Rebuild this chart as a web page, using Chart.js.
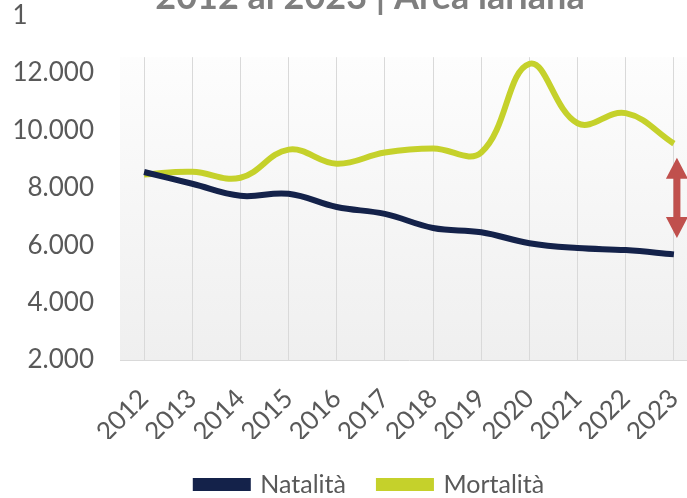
<!DOCTYPE html>
<html>
<head>
<meta charset="utf-8">
<script src="https://cdn.jsdelivr.net/npm/chart.js@4/dist/chart.umd.min.js"></script>
<style>
  html, body { margin: 0; padding: 0; background: #fff; overflow: hidden; }
  #wrap { position: relative; width: 728px; height: 531px; margin-top: -24px; }
</style>
</head>
<body>
<div id="wrap"><canvas id="myChart"></canvas></div>
<script>
// dati
const anni = ['2012', '2013', '2014', '2015', '2016', '2017', '2018', '2019', '2020', '2021', '2022', '2023'];
const natalita = [8550, 8140, 7720, 7790, 7330, 7090, 6600, 6450, 6070, 5900, 5830, 5680];
const mortalita = [8460, 8560, 8350, 9330, 8840, 9230, 9370, 9230, 12320, 10250, 10600, 9540];
const yTicks = [2000, 4000, 6000, 8000, 10000, 12000, 14000];
const yTickLabels = ['2.000', '4.000', '6.000', '8.000', '10.000', '12.000', '14.000'];
const yMin = 2000, yMax = 12550;
const arrowRange = [9050, 6250];   // estremi della freccia rossa (2023)
const titolo = '2012 al 2023 | Area lariana';

const grigio = '#595959';
const fontAssi = { family: 'Lato', size: 26 };

// sfondo sfumato dell'area del grafico
const sfondo = {
  id: 'sfondo',
  beforeDraw(chart) {
    const a = chart.chartArea;
    const ctx = chart.ctx;
    const g = ctx.createLinearGradient(0, a.top, 0, a.bottom);
    g.addColorStop(0, '#fdfdfd');
    g.addColorStop(1, '#efefef');
    ctx.save();
    ctx.fillStyle = g;
    ctx.fillRect(a.left, a.top, a.right - a.left, a.bottom - a.top);
    ctx.restore();
  }
};

// freccia rossa doppia sul 2023 + etichetta 14.000 tagliata (resta solo "1")
const extra = {
  id: 'extra',
  afterDatasetsDraw(chart) {
    const ctx = chart.ctx;
    const x = chart.scales.x.getPixelForValue(anni.length - 1) + 3;
    const y1 = chart.scales.y.getPixelForValue(arrowRange[0]);
    const y2 = chart.scales.y.getPixelForValue(arrowRange[1]);
    const head = 21, half = 11, shaft = 3.5;
    ctx.save();
    ctx.fillStyle = '#c0504d';
    ctx.beginPath();
    ctx.moveTo(x, y1);
    ctx.lineTo(x + half, y1 + head);
    ctx.lineTo(x + shaft, y1 + head);
    ctx.lineTo(x + shaft, y2 - head);
    ctx.lineTo(x + half, y2 - head);
    ctx.lineTo(x, y2);
    ctx.lineTo(x - half, y2 - head);
    ctx.lineTo(x - shaft, y2 - head);
    ctx.lineTo(x - shaft, y1 + head);
    ctx.lineTo(x - half, y1 + head);
    ctx.closePath();
    ctx.fill();
    ctx.restore();
  },
  afterDraw(chart) {
    const ctx = chart.ctx;
    const ys = chart.scales.y;
    const last = yTickLabels[yTickLabels.length - 1];
    ctx.save();
    ctx.font = fontAssi.size + 'px ' + fontAssi.family;
    ctx.fillStyle = grigio;
    ctx.textBaseline = 'middle';
    ctx.textAlign = 'left';
    const x0 = ys.right - ys.options.ticks.padding - ctx.measureText(last).width;
    ctx.fillText(last.charAt(0), x0, ys.getPixelForValue(yTicks[yTicks.length - 1]));
    ctx.restore();
  }
};

const ctx = document.getElementById('myChart').getContext('2d');
const myChart = new Chart(ctx, {
  type: 'line',
  data: {
    labels: anni,
    datasets: [{
      label: 'Natalità',
      data: natalita,
      borderColor: '#14224a',
      backgroundColor: '#14224a',
      borderWidth: 6,
      pointRadius: 0,
      tension: 0.4
    },
    {
      label: 'Mortalità',
      data: mortalita,
      borderColor: '#c5d12b',
      backgroundColor: '#c5d12b',
      borderWidth: 6,
      pointRadius: 0,
      tension: 0.4
    }]
  },
  options: {
    responsive: true,
    maintainAspectRatio: false,
    animation: false,
    layout: { padding: { left: 14, right: 2, top: 0, bottom: 0 } },
    plugins: {
      title: {
        display: true,
        text: titolo,
        color: '#7f7f7f',
        font: { family: 'Lato', size: 36, weight: 'bold' },
        padding: { top: 0, bottom: 38 }
      },
      legend: {
        position: 'bottom',
        labels: {
          color: grigio,
          font: { family: 'Lato', size: 25 },
          boxWidth: 52,
          boxHeight: 7,
          padding: 33
        }
      },
      tooltip: { enabled: false }
    },
    scales: {
      x: {
        offset: true,
        grid: { offset: false, color: '#d9d9d9', drawTicks: false },
        border: { color: '#d9d9d9' },
        ticks: {
          color: grigio,
          font: { family: 'Lato', size: 26 },
          autoSkip: false,
          minRotation: 45,
          maxRotation: 45,
          padding: 23
        },
        afterFit(scale) {
          scale.paddingLeft = 0;
          scale.paddingRight = 0;
          scale.height = 79;
        }
      },
      y: {
        min: yMin,
        max: yMax,
        afterBuildTicks(axis) {
          axis.ticks = yTicks.filter(v => v <= yMax).map(v => ({ value: v }));
        },
        afterFit(scale) {
          scale.width = 106;
        },
        grid: { display: false, drawTicks: false },
        border: { display: false },
        ticks: {
          color: grigio,
          font: fontAssi,
          padding: 26,
          callback(value) {
            return yTickLabels[yTicks.indexOf(value)];
          }
        }
      },
      // asse vuoto a destra: il grafico originale prosegue oltre il bordo
      y2: {
        position: 'right',
        grid: { display: false, drawTicks: false },
        border: { display: false },
        ticks: { display: false },
        afterFit(scale) {
          scale.width = 28;
        }
      }
    }
  },
  plugins: [sfondo, extra]
});
</script>
</body>
</html>
